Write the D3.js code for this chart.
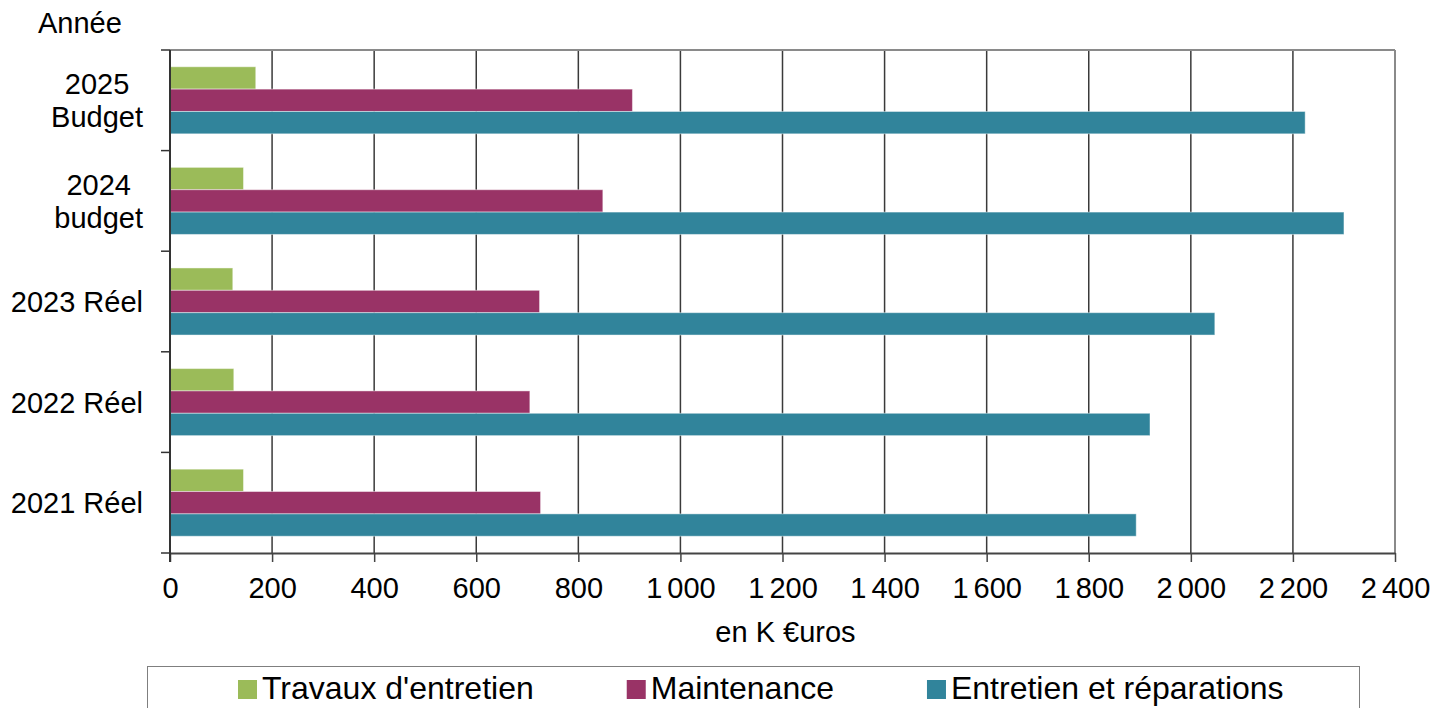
<!DOCTYPE html>
<html>
<head>
<meta charset="utf-8">
<script src="https://cdn.jsdelivr.net/npm/d3@7"></script>
<style>
  html, body { margin: 0; padding: 0; background: #fff; }
  svg { display: block; font-family: "Liberation Sans", Arial, sans-serif; }
</style>
</head>
<body>
<svg id="chart" width="1435" height="708"></svg>
<script>
// ---- Data ----
const categories = ["2025\nBudget", "2024\nbudget", "2023 Réel", "2022 Réel", "2021 Réel"];
const seriesNames = ["Travaux d'entretien", "Maintenance", "Entretien et réparations"];
const travaux     = [168, 144, 123, 125, 144];
const maintenance = [906, 848, 724, 705, 726];
const entretien   = [2224, 2300, 2047, 1920, 1893];
const tickValues = [0, 200, 400, 600, 800, 1000, 1200, 1400, 1600, 1800, 2000, 2200, 2400];
const tickLabels = ["0", "200", "400", "600", "800", "1 000", "1 200", "1 400", "1 600", "1 800", "2 000", "2 200", "2 400"];
const colors = ["#9BBB59", "#993366", "#31849B"];
const yAxisTitle = "Année";
const xAxisTitle = "en K €uros";

const seriesValues = [travaux, maintenance, entretien];

// ---- Layout ----
const svg = d3.select("#chart");
const L = 170, R = 1395, T = 50, B = 553;

const x = d3.scaleLinear().domain([0, 2400]).range([L, R]);
const y = d3.scaleBand().domain(categories).range([T, B]).padding(0);
const bw = y.bandwidth();
const ySub = d3.scaleBand().domain(d3.range(seriesNames.length)).range([bw / 6, bw * 5 / 6]).padding(0);

// gridlines
svg.append("g").selectAll("line")
  .data(tickValues.filter(v => v > 0 && v < 2400))
  .join("line")
  .attr("x1", d => x(d)).attr("x2", d => x(d))
  .attr("y1", T).attr("y2", B)
  .attr("stroke", "#3a3a3a").attr("stroke-width", 1.5);

// bars
const rows = categories.map((c, i) => ({ cat: c, vals: seriesValues.map(s => s[i]) }));
const gRow = svg.append("g").selectAll("g").data(rows).join("g")
  .attr("transform", d => `translate(0,${y(d.cat)})`);
gRow.selectAll("rect")
  .data(d => d.vals.map((v, k) => ({ v, k })))
  .join("rect")
  .attr("x", x(0))
  .attr("y", d => ySub(d.k))
  .attr("width", d => x(d.v) - x(0))
  .attr("height", ySub.bandwidth())
  .attr("fill", d => colors[d.k])
  .attr("stroke", "rgba(255,255,255,0.45)")
  .attr("stroke-width", 1);

// plot border top / right
svg.append("line").attr("x1", L).attr("x2", R).attr("y1", T).attr("y2", T)
  .attr("stroke", "#8a8a8a").attr("stroke-width", 2);
svg.append("line").attr("x1", R).attr("x2", R).attr("y1", T).attr("y2", B)
  .attr("stroke", "#8a8a8a").attr("stroke-width", 2);

// x axis
const xAxis = svg.append("g").attr("transform", `translate(0,${B})`)
  .call(d3.axisBottom(x).tickValues(tickValues).tickFormat((d, i) => tickLabels[i]).tickSize(9).tickSizeOuter(0));
xAxis.select(".domain").attr("stroke", "#444").attr("stroke-width", 2);
xAxis.selectAll(".tick line").attr("stroke", "#444").attr("stroke-width", 1.5);
xAxis.selectAll(".tick text")
  .attr("font-family", "'Liberation Sans', Arial, sans-serif")
  .attr("font-size", 29).attr("fill", "#000")
  .attr("y", 0).attr("dy", 0)
  .attr("transform", "translate(0,45)")
  .style("word-spacing", "-3px");

// y axis line and ticks
svg.append("line").attr("x1", L).attr("x2", L).attr("y1", T).attr("y2", B + 9)
  .attr("stroke", "#333").attr("stroke-width", 2);
const bounds = categories.map(c => y(c)).concat([B]);
svg.append("g").selectAll("line").data(bounds).join("line")
  .attr("x1", L - 9).attr("x2", L).attr("y1", d => d).attr("y2", d => d)
  .attr("stroke", "#333").attr("stroke-width", 1.5);

// category labels
const catG = svg.append("g");
categories.forEach(c => {
  const lines = c.split("\n");
  const cy = y(c) + bw / 2;
  const t = catG.append("text").attr("font-size", 29).attr("fill", "#000").attr("text-anchor", "middle");
  const spans = lines.map((ln, i) => t.append("tspan").text(ln));
  const widths = spans.map(s => s.node().getComputedTextLength());
  const maxW = d3.max(widths);
  const cx = 143 - maxW / 2;
  const lh = 33;
  const first = cy + 10.4 - (lines.length - 1) * lh / 2;
  spans.forEach((s, i) => s.attr("x", cx).attr("y", first + i * lh));
});

// axis titles
svg.append("text").attr("x", 38).attr("y", 33).attr("font-size", 29).attr("fill", "#000").text(yAxisTitle);
svg.append("text").attr("x", (L + R) / 2 + 3).attr("y", 642).attr("text-anchor", "middle")
  .attr("font-size", 29).attr("fill", "#000").text(xAxisTitle);

// legend
svg.append("rect").attr("x", 147.5).attr("y", 666.5).attr("width", 1212).attr("height", 60)
  .attr("fill", "none").attr("stroke", "#7f7f7f").attr("stroke-width", 1);
let lx = 238;
seriesNames.forEach((name, k) => {
  svg.append("rect").attr("x", lx).attr("y", 680).attr("width", 19).attr("height", 19).attr("fill", colors[k]);
  const t = svg.append("text").attr("x", lx + 24).attr("y", 699).attr("font-size", 32).attr("fill", "#000").text(name);
  lx += 24 + t.node().getComputedTextLength() + 93;
});
</script>
</body>
</html>
